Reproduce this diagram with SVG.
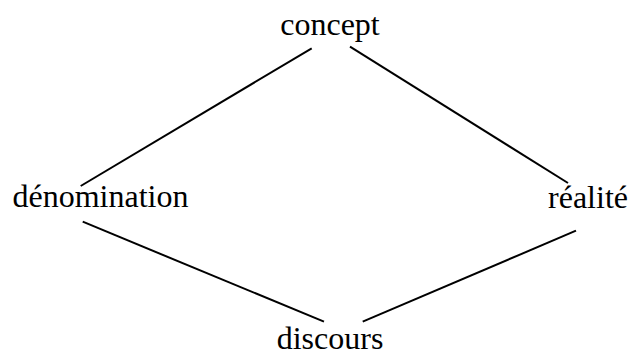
<svg xmlns="http://www.w3.org/2000/svg" width="632" height="354" viewBox="0 0 632 354">
<style>
text{font-family:"Liberation Serif","Times New Roman",serif;font-size:32px;fill:#000;text-anchor:middle}
line{stroke:#000;stroke-width:2;fill:none}
</style>
<rect width="632" height="354" fill="#fff"/>
<g id="connectors">
<line x1="311.7" y1="48.3" x2="80.7" y2="186"/>
<line x1="350" y1="46.7" x2="568" y2="183"/>
<line x1="82.7" y1="221.7" x2="324" y2="321.7"/>
<line x1="576" y1="230.7" x2="362.7" y2="321.7"/>
</g>
<g id="concept"><text x="330" y="35">concept</text></g>
<g id="denomination"><text x="100.5" y="207">dénomination</text></g>
<g id="realite"><text x="588" y="208">réalité</text></g>
<g id="discours"><text x="330" y="349">discours</text></g>
</svg>
